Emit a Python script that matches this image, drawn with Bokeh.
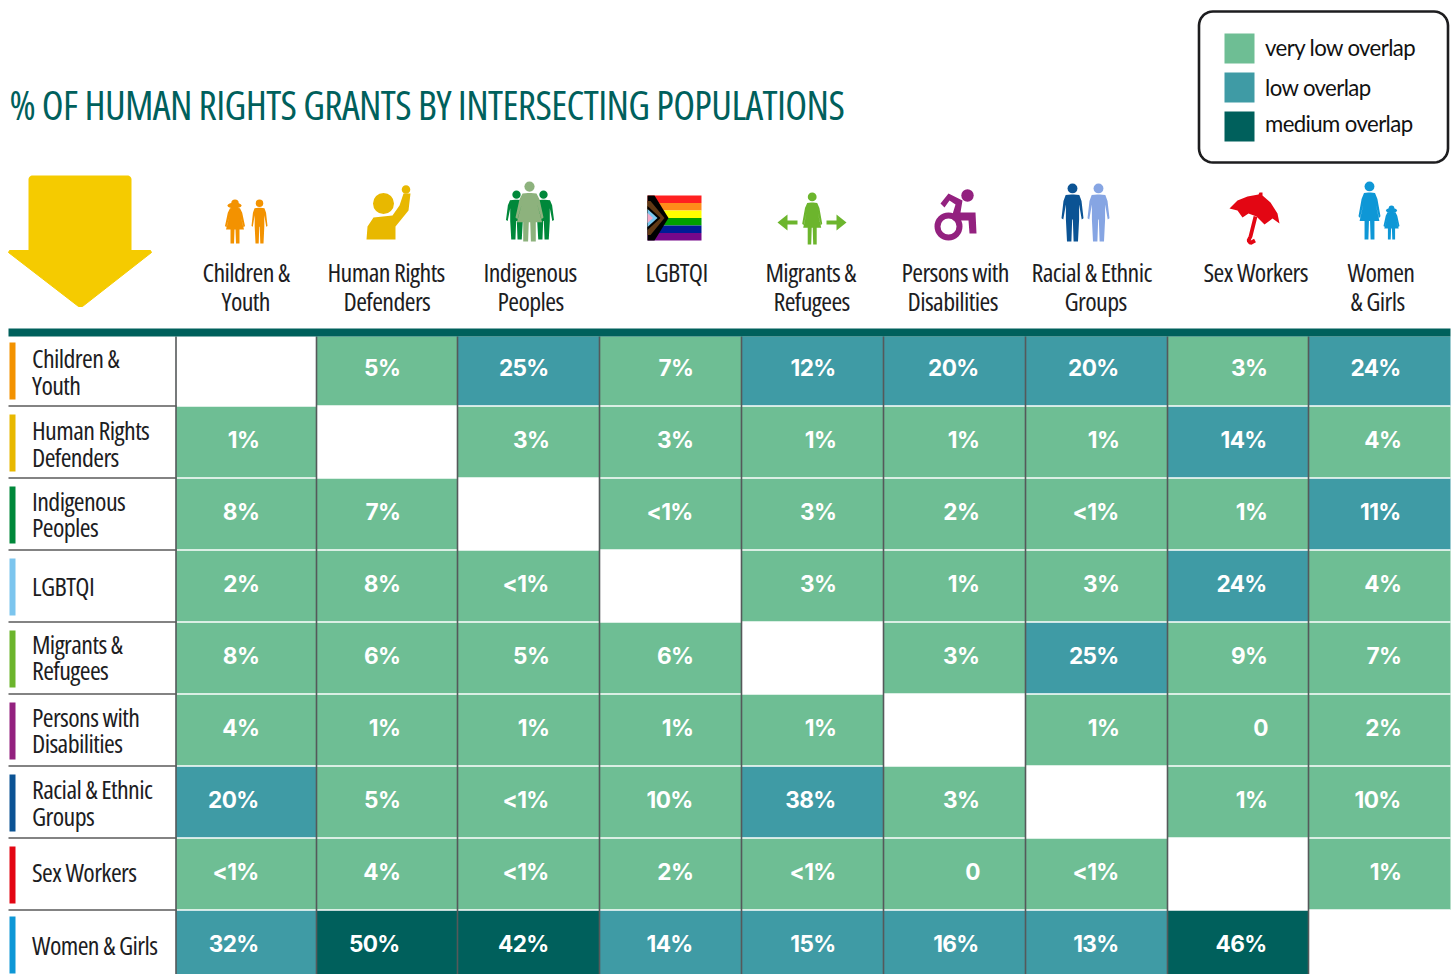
import math
from bokeh.embed import file_html
from bokeh.resources import INLINE
from bokeh.plotting import figure
from bokeh.models import Range1d, ColumnDataSource
from bokeh.core.properties import value

title = "% OF HUMAN RIGHTS GRANTS BY INTERSECTING POPULATIONS"
col_heads = [["Children &", "Youth"], ["Human Rights", "Defenders"], ["Indigenous", "Peoples"], ["LGBTQI"],
             ["Migrants &", "Refugees"], ["Persons with", "Disabilities"], ["Racial & Ethnic", "Groups"],
             ["Sex Workers"], ["Women", "& Girls"]]
row_heads = [["Children &", "Youth"], ["Human Rights", "Defenders"], ["Indigenous", "Peoples"], ["LGBTQI"],
             ["Migrants &", "Refugees"], ["Persons with", "Disabilities"], ["Racial & Ethnic", "Groups"],
             ["Sex Workers"], ["Women & Girls"]]
row_colors = ["#F39200", "#E8B800", "#00883A", "#7CC5EE", "#6CB52D", "#93217F", "#0B5394", "#E30613", "#0E97D6"]

children = ["", "5%", "25%", "7%", "12%", "20%", "20%", "3%", "24%"]
defenders = ["1%", "", "3%", "3%", "1%", "1%", "1%", "14%", "4%"]
indigenous = ["8%", "7%", "", "<1%", "3%", "2%", "<1%", "1%", "11%"]
lgbtqi = ["2%", "8%", "<1%", "", "3%", "1%", "3%", "24%", "4%"]
migrants = ["8%", "6%", "5%", "6%", "", "3%", "25%", "9%", "7%"]
disabilities = ["4%", "1%", "1%", "1%", "1%", "", "1%", "0", "2%"]
racial = ["20%", "5%", "<1%", "10%", "38%", "3%", "", "1%", "10%"]
sex_workers = ["<1%", "4%", "<1%", "2%", "<1%", "0", "<1%", "", "1%"]
women = ["32%", "50%", "42%", "14%", "15%", "16%", "13%", "46%", ""]
table = [children, defenders, indigenous, lgbtqi, migrants, disabilities, racial, sex_workers, women]

legend_labels = ["very low overlap", "low overlap", "medium overlap"]
GREEN, TEAL, DARK = "#6EBE94", "#3F9BA5", "#00605C"
legend_colors = [GREEN, TEAL, DARK]
INK = "#1D1D1F"
LABEL_FONT = "Open Sans"

# layout (page pixels)
col_edges = [175.5, 316, 457, 599, 741, 883, 1025, 1167, 1308, 1450]
row_edges = [336, 405.5, 477.5, 549.5, 621.5, 693.5, 765.5, 837.5, 909.5, 976]
bar_top = [342, 414, 486, 558, 630, 702, 774, 846, 916]
val_right = [260, 401, 550, 694, 837, 980, 1120, 1268, 1402]
val_y = [367, 439, 511, 583, 655, 727, 799, 871, 943]
head_left = [[202, 221], [327, 343], [483, 497], [645], [765, 773], [901, 907], [1031, 1064], [1203], [1347, 1350]]
row_label_y = [[357, 384], [429, 456], [500, 526], [585], [643, 669], [716, 742], [788, 815], [871], [944]]

p = figure(width=1455, height=974, output_backend="svg", toolbar_location=None,
           x_range=Range1d(0, 1455), y_range=Range1d(974, 0), min_border=0,
           outline_line_color=None, background_fill_color="white", border_fill_color="white")
p.xaxis.visible = False
p.yaxis.visible = False
p.xgrid.visible = False
p.ygrid.visible = False


def shade(v):
    n = 0 if v.startswith("<") else float(v.rstrip("%"))
    return GREEN if n < 11 else (TEAL if n < 40 else DARK)


cells = dict(l=[], r=[], t=[], b=[], c=[])
vals = dict(x=[], y=[], s=[])
for ri, row in enumerate(table):
    for ci, v in enumerate(row):
        if v == "":
            continue
        cells["l"].append(col_edges[ci]); cells["r"].append(col_edges[ci + 1])
        cells["t"].append(row_edges[ri]); cells["b"].append(row_edges[ri + 1]); cells["c"].append(shade(v))
        vals["x"].append(val_right[ci]); vals["y"].append(val_y[ri]); vals["s"].append(v)
p.quad(left="l", right="r", top="t", bottom="b", fill_color="c", line_color=None, source=ColumnDataSource(cells))

# row separators
for y in row_edges[1:-1]:
    p.line([176, 1450], [y, y], line_color="white", line_width=1.6)
    p.line([8, 176], [y, y], line_color="#5A5A5A", line_width=1.6)
for x in col_edges[:-1]:
    p.line([x, x], [336, 974], line_color="#55595A", line_width=1.6)
p.quad(left=[8], right=[1450], top=[328], bottom=[336], fill_color=DARK, line_color=None)

p.text(x="x", y="y", text="s", source=ColumnDataSource(vals), text_color="white", text_align="right",
       text_baseline="middle", text_font=value("Inter"), text_font_style="bold", text_font_size="22.6px")

# row labels and colour bars
for ri, lines in enumerate(row_heads):
    p.quad(left=[9], right=[15], top=[bar_top[ri]], bottom=[bar_top[ri] + 57], fill_color=row_colors[ri], line_color=None)
    for line, y in zip(lines, row_label_y[ri]):
        p.text(x=[31.5], y=[y], text=[line], text_color=INK, text_baseline="middle", text_align="left",
               text_font=value(LABEL_FONT), text_font_size="26px")
for ci, lines in enumerate(col_heads):
    for li, line in enumerate(lines):
        p.text(x=[head_left[ci][li]], y=[271 + 29 * li], text=[line], text_color=INK, text_baseline="middle", text_align="left",
               text_font=value(LABEL_FONT), text_font_size="26px")

# title
p.text(x=[9], y=[104], text=[title], text_color=DARK, text_baseline="middle", text_font=value(LABEL_FONT), text_font_size="40px")


def rounded(x0, y0, x1, y1, r):
    xs, ys = [], []
    for cx, cy, a0 in [(x1 - r, y0 + r, -90), (x1 - r, y1 - r, 0), (x0 + r, y1 - r, 90), (x0 + r, y0 + r, 180)]:
        for k in range(9):
            a = math.radians(a0 + k * 90 / 8)
            xs.append(cx + r * math.cos(a)); ys.append(cy + r * math.sin(a))
    return xs, ys


# legend
lx, ly = rounded(1198.5, 11, 1447.5, 162, 14)
p.patch(lx, ly, fill_color="white", line_color="#1D1D1F", line_width=2.6)
for y, yt, c, s in zip([33, 72, 111], [46.5, 86.5, 122.5], legend_colors, legend_labels):
    p.quad(left=[1224], right=[1254], top=[y], bottom=[y + 30], fill_color=c, line_color=None)
    p.text(x=[1264.5], y=[yt], text=[s], text_color="#111111", text_baseline="middle", text_font=value("Lato"), text_font_size="22.2px")

# big arrow
ax, ay = rounded(28, 175, 131, 262, 4)
p.patch(ax, ay, fill_color="#F5CB00", line_color=None)
p.patch([8, 9, 150, 151, 82, 78], [252, 250, 250, 252, 306, 306], fill_color="#F5CB00", line_color="#F5CB00", line_width=1)


def person(cx, top, bot, hw, color, dress=False):
    h = bot - top
    if dress:
        half = [(.12, .19), (.5, .2), (.72, .3), (1, .6), (.86, .63), (.55, .38), (.9, .68), (.45, .68), (.45, 1), (.1, 1), (.05, .68)]
    else:
        half = [(.12, .19), (.62, .2), (.82, .3), (1, .6), (.84, .62), (.6, .36), (.6, .62), (.5, 1), (.1, 1), (.03, .62)]
    xs = [cx + u * hw for u, v in half] + [cx - u * hw for u, v in reversed(half)]
    ys = [top + v * h for u, v in half] + [top + v * h for u, v in reversed(half)]
    p.patch(xs, ys, fill_color=color, line_color=None)
    p.circle(x=[cx], y=[top + .085 * h], radius=.085 * h, fill_color=color, line_color=None)


# icons
person(234.5, 199, 243, 10, "#F39200", True)
p.ellipse(x=[234], y=[205], width=14, height=6, fill_color="#F39200", line_color=None)
person(259, 199, 243, 8, "#F39200")

hr = "#E8B800"
p.circle(x=[383], y=[203], radius=10.5, fill_color=hr, line_color=None)
p.patch([366, 367, 373, 392, 399, 403, 410, 408, 395, 395], [239, 226, 217, 215, 205, 193, 193, 210, 226, 239], fill_color=hr, line_color=None)
p.circle(x=[405.5], y=[189], radius=4.3, fill_color=hr, line_color=None)

person(516, 190, 239, 10.5, "#00883A")
person(543, 190, 239, 10.5, "#00883A")
person(529, 181, 241, 14, "#8DB27D", True)

flag = ["#FF2020", "#FF8C1A", "#FFFF00", "#00A000", "#001C96", "#76088A"]
for i, c in enumerate(flag):
    p.quad(left=[647], right=[701], top=[195 + i * 7.5], bottom=[195 + (i + 1) * 7.5], fill_color=c, line_color=None)
for c, d0, tip in [("#000000", 22.5, 668), ("#613915", 17, 664), ("#000000", 12, 660), ("#7BC8F0", 9, 657), ("#F5A9C8", 5, 652.5)]:
    base = 647 + max(0, (tip - 647) - 14)
    p.patch([647, base, tip, base, 647], [217.5 - d0, 217.5 - d0, 217.5, 217.5 + d0, 217.5 + d0], fill_color=c, line_color=None)

mg = "#6CB52D"
person(811.7, 192, 244, 10, mg, True)
p.patch([777, 787, 787, 797, 797, 787, 787], [222, 214, 220, 220, 224, 224, 230], fill_color=mg, line_color=None)
p.patch([846, 836, 836, 826, 826, 836, 836], [222, 214, 220, 220, 224, 224, 230], fill_color=mg, line_color=None)

wc = "#93217F"
p.annulus(x=[948], y=[226], inner_radius=8, outer_radius=14, fill_color=wc, line_color=None)
p.circle(x=[967], y=[195], radius=6.2, fill_color=wc, line_color=None)
p.patch([940, 948, 962, 960, 975, 976, 969, 968, 953, 951, 955, 949, 944],
        [203, 193, 200, 212, 212, 233, 233, 220, 220, 217, 204, 200, 207], fill_color=wc, line_color=None)

person(1072, 183, 241, 11, "#0B5394")
person(1098, 183, 241, 11, "#86A5E3")

um = "#E30613"
p.patch([1229, 1237, 1247, 1258, 1259, 1262, 1262, 1270, 1277, 1279, 1272, 1264, 1256, 1248, 1242, 1237],
        [208, 200, 196, 194, 192, 192, 195, 202, 213, 223, 218, 224, 216, 213, 217, 210], fill_color=um, line_color=None)
p.line([1255, 1250, 1248, 1250, 1254.5], [216, 236, 240, 242.5, 240], line_color=um, line_width=3.8)

person(1369, 181, 239, 11, "#0E97D6", True)
person(1391, 205, 239, 8, "#0E97D6", True)
p.ellipse(x=[1391], y=[210], width=11, height=5, fill_color="#0E97D6", line_color=None)

html = file_html(p, INLINE)
# page-level style: condensed width of the variable Open Sans, tightened tracking
html = html.replace("<head>", "<head><style>body{font-stretch:75%;letter-spacing:-0.6px}</style>", 1)
open("out.html", "w").write(html)
